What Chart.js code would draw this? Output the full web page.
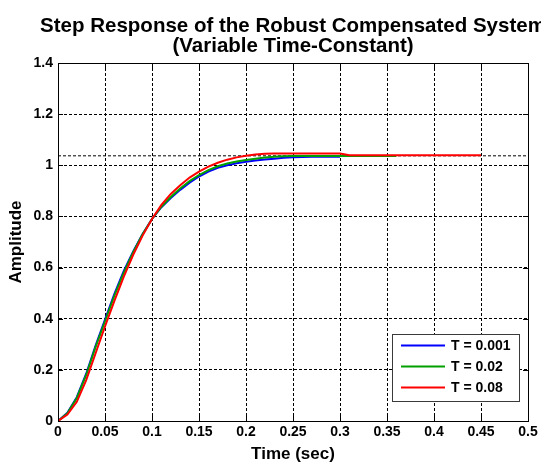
<!DOCTYPE html>
<html>
<head>
<meta charset="utf-8">
<script src="https://cdn.jsdelivr.net/npm/chart.js@4/dist/chart.umd.min.js"></script>
<style>
  html, body { margin: 0; padding: 0; background: #ffffff; }
  #wrap { width: 541px; height: 466px; position: relative; }
</style>
</head>
<body>
<div id="wrap"><canvas id="c" width="541" height="466"></canvas></div>
<script>
// Sample times (sec)
const timeSec = [0, 0.01, 0.02, 0.03, 0.04, 0.05, 0.06, 0.07, 0.08, 0.09,
  0.10, 0.11, 0.12, 0.13, 0.14, 0.15, 0.16, 0.17, 0.18, 0.19,
  0.20, 0.21, 0.22, 0.23, 0.24, 0.25, 0.26, 0.27, 0.28, 0.29,
  0.30, 0.31, 0.32, 0.33, 0.34, 0.35, 0.36, 0.37, 0.38, 0.39,
  0.40, 0.41, 0.42, 0.43, 0.44, 0.45];

// Step response amplitude, T = 0.001
const respT0001 = [0, 0.032, 0.093, 0.185, 0.295, 0.397, 0.497, 0.587, 0.663, 0.731,
  0.79, 0.836, 0.872, 0.904, 0.932, 0.956, 0.975, 0.99, 1.0, 1.008,
  1.014, 1.019, 1.023, 1.026, 1.029, 1.031, 1.032, 1.033, 1.033, 1.033,
  1.033];

// Step response amplitude, T = 0.02
const respT002 = [0, 0.03, 0.09, 0.18, 0.29, 0.39, 0.49, 0.58, 0.66, 0.73,
  0.79, 0.838, 0.876, 0.909, 0.938, 0.962, 0.981, 0.996, 1.007, 1.015,
  1.021, 1.026, 1.03, 1.033, 1.035, 1.036, 1.036, 1.036, 1.036, 1.036,
  1.036, 1.036, 1.036, 1.036, 1.036, 1.036, 1.036];

// Step response amplitude, T = 0.08
const respT008 = [0, 0.025, 0.075, 0.16, 0.265, 0.37, 0.47, 0.565, 0.65, 0.725,
  0.79, 0.845, 0.888, 0.922, 0.952, 0.975, 0.995, 1.01, 1.022, 1.031,
  1.037, 1.042, 1.045, 1.046, 1.046, 1.046, 1.046, 1.046, 1.046, 1.046,
  1.046, 1.039, 1.039, 1.039, 1.039, 1.039, 1.039, 1.039, 1.039, 1.039,
  1.039, 1.039, 1.039, 1.039, 1.039, 1.039];

// Final (steady-state) value reference line
const steadyState = 1.037;
const steadySpan = [0, 0.5];

const seriesLabels = ['T = 0.001', 'T = 0.02', 'T = 0.08'];
const seriesColors = ['#0000ff', '#00a000', '#ff0000'];

// Axis ticks
const xTickValues = [0, 0.05, 0.1, 0.15, 0.2, 0.25, 0.3, 0.35, 0.4, 0.45, 0.5];
const xTickLabels = ['0', '0.05', '0.1', '0.15', '0.2', '0.25', '0.3', '0.35', '0.4', '0.45', '0.5'];
const yTickValues = [0, 0.2, 0.4, 0.6, 0.8, 1, 1.2, 1.4];
const yTickLabels = ['0', '0.2', '0.4', '0.6', '0.8', '1', '1.2', '1.4'];

const titleLines = ['Step Response of the Robust Compensated System', '(Variable Time-Constant)'];

const FONT = "'Liberation Sans', Arial, Helvetica, sans-serif";

function toPoints(values) {
  return values.map((v, i) => ({ x: timeSec[i], y: v }));
}

// Title centred over the plotting area
const titlePlugin = {
  id: 'plotTitle',
  afterDraw(chart) {
    const { ctx, chartArea } = chart;
    const cx = (chartArea.left + chartArea.right) / 2;
    ctx.save();
    ctx.fillStyle = '#000';
    ctx.font = 'bold 20.5px ' + FONT;
    ctx.textAlign = 'center';
    ctx.textBaseline = 'alphabetic';
    titleLines.forEach((line, i) => ctx.fillText(line, cx, 31.5 + i * 20));
    ctx.restore();
  }
};

// Axes box with inward tick marks on all four sides
const boxPlugin = {
  id: 'axesBox',
  afterDatasetsDraw(chart) {
    const { ctx, chartArea: a, scales } = chart;
    const len = 5;
    ctx.save();
    ctx.strokeStyle = '#000';
    ctx.lineWidth = 1;
    ctx.setLineDash([]);
    ctx.beginPath();
    xTickValues.forEach(v => {
      const px = Math.round(scales.x.getPixelForValue(v)) + 0.5;
      ctx.moveTo(px, a.bottom); ctx.lineTo(px, a.bottom - len);
      ctx.moveTo(px, a.top); ctx.lineTo(px, a.top + len);
    });
    yTickValues.forEach(v => {
      const py = Math.round(scales.y.getPixelForValue(v)) + 0.5;
      ctx.moveTo(a.left, py); ctx.lineTo(a.left + len, py);
      ctx.moveTo(a.right, py); ctx.lineTo(a.right - len, py);
    });
    ctx.stroke();
    ctx.strokeRect(Math.round(a.left) + 0.5, Math.round(a.top) + 0.5,
      Math.round(a.right - a.left), Math.round(a.bottom - a.top));
    ctx.restore();
  }
};

// Legend box in the lower-right corner of the plot
const legendPlugin = {
  id: 'boxLegend',
  afterDraw(chart) {
    const { ctx, chartArea: a } = chart;
    const w = 127, h = 67;
    const left = Math.round(a.right - 9 - w), top = Math.round(a.bottom - 20 - h);
    ctx.save();
    ctx.fillStyle = '#fff';
    ctx.fillRect(left, top, w, h);
    ctx.strokeStyle = '#3a3a3a';
    ctx.lineWidth = 1;
    ctx.strokeRect(left + 0.5, top + 0.5, w, h);
    ctx.font = 'bold 14px ' + FONT;
    ctx.textBaseline = 'middle';
    ctx.textAlign = 'left';
    const items = chart.data.datasets.filter(d => !d.hideInLegend);
    items.forEach((d, i) => {
      const y = top + 11.5 + i * 21;
      ctx.strokeStyle = d.borderColor;
      ctx.lineWidth = 2;
      ctx.beginPath();
      ctx.moveTo(left + 9, y);
      ctx.lineTo(left + 53, y);
      ctx.stroke();
      ctx.fillStyle = '#000';
      ctx.fillText(d.label, left + 59, y + 0.5);
    });
    ctx.restore();
  }
};

const lineDataset = (label, color, values, order) => ({
  label,
  data: toPoints(values),
  borderColor: color,
  backgroundColor: color,
  borderWidth: 2,
  pointRadius: 0,
  tension: 0,
  fill: false,
  order
});

new Chart(document.getElementById('c'), {
  type: 'line',
  data: {
    datasets: [
      lineDataset(seriesLabels[0], seriesColors[0], respT0001, 3),
      lineDataset(seriesLabels[1], seriesColors[1], respT002, 2),
      lineDataset(seriesLabels[2], seriesColors[2], respT008, 1),
      {
        label: 'steady state',
        hideInLegend: true,
        data: steadySpan.map(t => ({ x: t, y: steadyState })),
        borderColor: '#000',
        borderWidth: 1,
        borderDash: [3, 2],
        pointRadius: 0,
        fill: false,
        order: 4
      }
    ]
  },
  options: {
    responsive: false,
    animation: false,
    parsing: false,
    layout: { padding: { top: 63, right: 13, left: 0, bottom: 0 } },
    plugins: {
      legend: { display: false },
      title: { display: false },
      tooltip: { enabled: false }
    },
    scales: {
      x: {
        type: 'linear',
        min: 0,
        max: 0.5,
        afterBuildTicks: s => { s.ticks = xTickValues.map(v => ({ value: v })); },
        afterFit: s => { s.height = 45; },
        ticks: {
          autoSkip: false,
          maxRotation: 0,
          padding: 3,
          color: '#000',
          font: { family: FONT, size: 14, weight: 'bold' },
          callback: (v, i) => xTickLabels[i]
        },
        grid: { color: '#000', lineWidth: 1, drawTicks: false },
        border: { color: '#000', width: 1, dash: [3, 2] },
        title: {
          display: true,
          text: 'Time (sec)',
          color: '#000',
          font: { family: FONT, size: 17, weight: 'bold' },
          padding: { top: 0, bottom: 1 }
        }
      },
      y: {
        type: 'linear',
        min: 0,
        max: 1.4,
        afterBuildTicks: s => { s.ticks = yTickValues.map(v => ({ value: v })); },
        afterFit: s => { s.width = 58; },
        ticks: {
          autoSkip: false,
          padding: 5,
          color: '#000',
          font: { family: FONT, size: 14, weight: 'bold' },
          callback: (v, i) => yTickLabels[i]
        },
        grid: { color: '#000', lineWidth: 1, drawTicks: false },
        border: { color: '#000', width: 1, dash: [3, 2] },
        title: {
          display: true,
          text: 'Amplitude',
          color: '#000',
          font: { family: FONT, size: 17, weight: 'bold' },
          padding: { top: 6, bottom: 0 }
        }
      }
    }
  },
  plugins: [boxPlugin, titlePlugin, legendPlugin]
});
</script>
</body>
</html>
